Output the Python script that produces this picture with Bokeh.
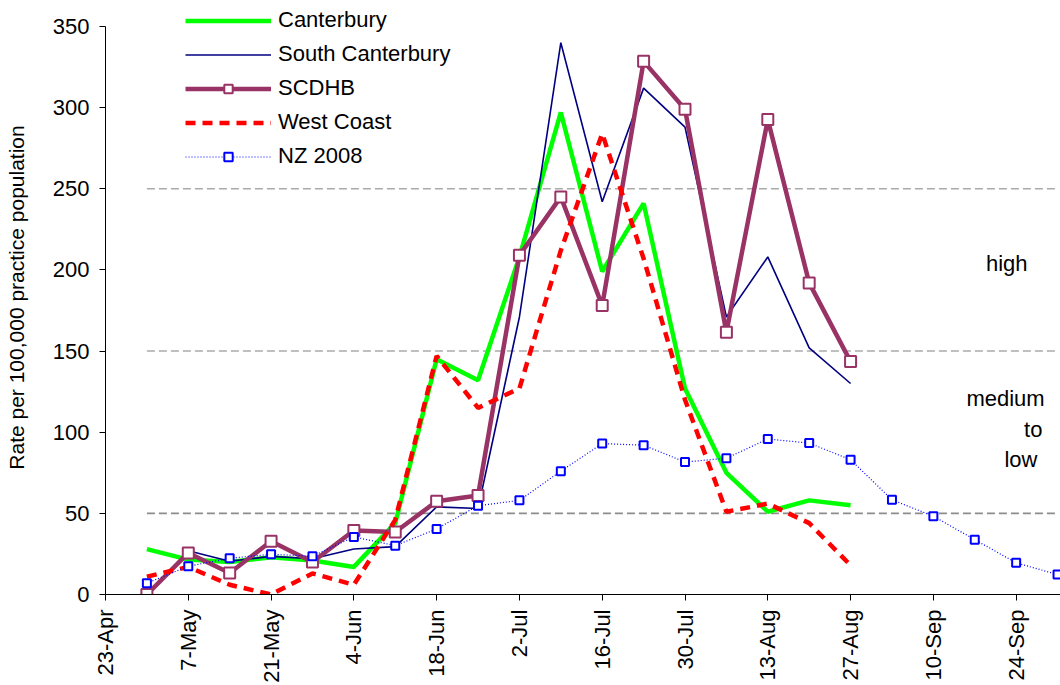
import pandas as pd
from math import pi
from bokeh.plotting import figure
from bokeh.models import (ColumnDataSource, Range1d, FixedTicker, CustomJSTickFormatter,
                          Legend, LegendItem, Label, SingleIntervalTicker)
from bokeh.embed import file_html
from bokeh.resources import INLINE

# ---------------- data ----------------
week_dates = ["2009-04-30", "2009-05-07", "2009-05-14", "2009-05-21", "2009-05-28",
              "2009-06-04", "2009-06-11", "2009-06-18", "2009-06-25", "2009-07-02",
              "2009-07-09", "2009-07-16", "2009-07-23", "2009-07-30", "2009-08-06",
              "2009-08-13", "2009-08-20", "2009-08-27", "2009-09-03", "2009-09-10",
              "2009-09-17", "2009-09-24", "2009-10-01"]

canterbury = [28, 21.5, 20, 23, 21, 17, 44, 145, 132, 208, 297, 199, 241, 127, 75, 51, 58, 55]
south_canterbury = [0, 27, 20.5, 23.5, 22, 28, 29.5, 54, 53, 171, 340, 242, 312, 288, 171, 208, 152, 130]
scdhb = [0, 25.6, 13.3, 32.8, 20, 39.4, 38.5, 57.4, 61, 209, 245, 178, 328.5, 299, 161.6, 292.6, 192, 143.5]
west_coast = [11, 17, 6, 0, 13, 6, 46, 147, 115, 127, 212, 284, 207, 120, 51, 56, 44, 18]
nz_2008 = [7, 17.4, 22.3, 24.8, 23.6, 35.5, 30.1, 40.4, 54.7, 58, 76, 93, 92, 81.6, 84,
           95.8, 93.3, 83, 58.4, 48.2, 33.8, 19.5, 12.3]

thresholds = [50, 150, 250]
tick_labels = ["23-Apr", "7-May", "21-May", "4-Jun", "18-Jun", "2-Jul", "16-Jul",
               "30-Jul", "13-Aug", "27-Aug", "10-Sep", "24-Sep"]
band_labels = ["high", "medium", "to", "low"]

# ---------------- helpers ----------------
dates = pd.to_datetime(week_dates)
n4 = len(canterbury)
src4 = ColumnDataSource(dict(x=dates[:n4], cant=canterbury, sc=south_canterbury,
                             scdhb=scdhb, wc=west_coast))
src_nz = ColumnDataSource(dict(x=dates, nz=nz_2008))

tick_dates = pd.to_datetime([t + "-2009" for t in tick_labels], format="%d-%b-%Y")
tick_ms = [int(t.value // 10**6) for t in tick_dates]

start = tick_dates[0]
end = start + pd.Timedelta(days=161.5)

FONT = "Liberation Sans"

# y range extends a little above 350 so the legend (which sits above the 350 line) is not clipped;
# the axis itself is bounded at 0-350
p = figure(width=1060, height=685, x_axis_type="datetime",
           x_range=Range1d(start, end), y_range=Range1d(0, 366),
           output_backend="svg", toolbar_location=None,
           min_border_left=105, min_border_right=0, min_border_top=0,
           min_border_bottom=90)
p.outline_line_color = None
p.xgrid.visible = False
p.ygrid.visible = False
p.background_fill_color = "white"
p.border_fill_color = "white"

# threshold dashed lines
th_src = ColumnDataSource(dict(x0=[dates[0]] * 3, x1=[dates[-1]] * 3, y=thresholds,
                               c=["#8c8c8c", "#aaaaaa", "#aaaaaa"]))
p.segment(x0="x0", x1="x1", y0="y", y1="y", source=th_src, line_color="c",
          line_width=1.6, line_dash="8 4")

# series
r_cant = p.line("x", "cant", source=src4, line_color="#00ff00", line_width=4.5)
r_sc = p.line("x", "sc", source=src4, line_color="#000080", line_width=1.6)
r_scdhb = p.line("x", "scdhb", source=src4, line_color="#993366", line_width=4.5)
r_scdhb_m = p.scatter("x", "scdhb", source=src4, marker="square", size=11,
                      line_color="#993366", line_width=2, fill_color="white")
r_wc = p.line("x", "wc", source=src4, line_color="#ff0000", line_width=4.5,
              line_dash="10 7")
r_nz = p.line("x", "nz", source=src_nz, line_color="#0000ff", line_width=1.2,
              line_dash="1 2")
r_nz_m = p.scatter("x", "nz", source=src_nz, marker="square", size=8,
                   line_color="#0000ff", line_width=2, fill_color="white")

# axes
xa = p.xaxis[0]
xa.ticker = FixedTicker(ticks=tick_ms)
xa.formatter = CustomJSTickFormatter(args=dict(tvals=tick_ms, tlabs=tick_labels), code="""
    const i = tvals.indexOf(tick);
    return i >= 0 ? tlabs[i] : "";
""")
xa.major_label_orientation = pi / 2
xa.major_label_text_font = FONT
xa.major_label_text_font_size = "22px"
xa.major_label_text_color = "black"
xa.major_label_standoff = 9
xa.major_tick_out = 6
xa.major_tick_in = 0
xa.minor_tick_line_color = None
xa.axis_line_color = "black"
xa.major_tick_line_color = "black"

ya = p.yaxis[0]
ya.bounds = (0, 350)
ya.ticker = SingleIntervalTicker(interval=50, num_minor_ticks=0)
ya.major_label_text_font = FONT
ya.major_label_text_font_size = "22px"
ya.major_label_text_color = "black"
ya.major_label_standoff = 10
ya.major_tick_out = 6
ya.major_tick_in = 0
ya.minor_tick_line_color = None
ya.axis_line_color = "black"
ya.major_tick_line_color = "black"
ya.axis_label = "Rate per 100,000 practice population"
ya.axis_label_text_font = FONT
ya.axis_label_text_font_size = "21px"
ya.axis_label_text_font_style = "normal"
ya.axis_label_text_color = "black"
ya.axis_label_standoff = 22

# band annotations
def day_ms(d):
    return (start + pd.Timedelta(days=d)).value / 1e6

band_pos = [(152.4, 204), (152.2, 121), (156.9, 101.4), (154.8, 83)]
for txt, (dx, yv) in zip(band_labels, band_pos):
    p.add_layout(Label(x=day_ms(dx), y=yv, text=txt, text_align="center",
                       text_baseline="middle", text_font=FONT,
                       text_font_size="22px", text_color="black"))

# legend
legend = Legend(items=[
    LegendItem(label="Canterbury", renderers=[r_cant]),
    LegendItem(label="South Canterbury", renderers=[r_sc]),
    LegendItem(label="SCDHB", renderers=[r_scdhb, r_scdhb_m]),
    LegendItem(label="West Coast", renderers=[r_wc]),
    LegendItem(label="NZ 2008", renderers=[r_nz, r_nz_m]),
], location=(80, 425))
legend.border_line_color = None
legend.background_fill_alpha = 0
legend.glyph_width = 86
legend.glyph_height = 21
legend.label_height = 21
legend.spacing = 8
legend.label_standoff = 7
legend.padding = 0
legend.margin = 0
legend.label_text_font = FONT
legend.label_text_font_size = "22px"
legend.label_text_color = "black"
p.add_layout(legend)

open("out.html", "w").write(file_html(p, INLINE))
